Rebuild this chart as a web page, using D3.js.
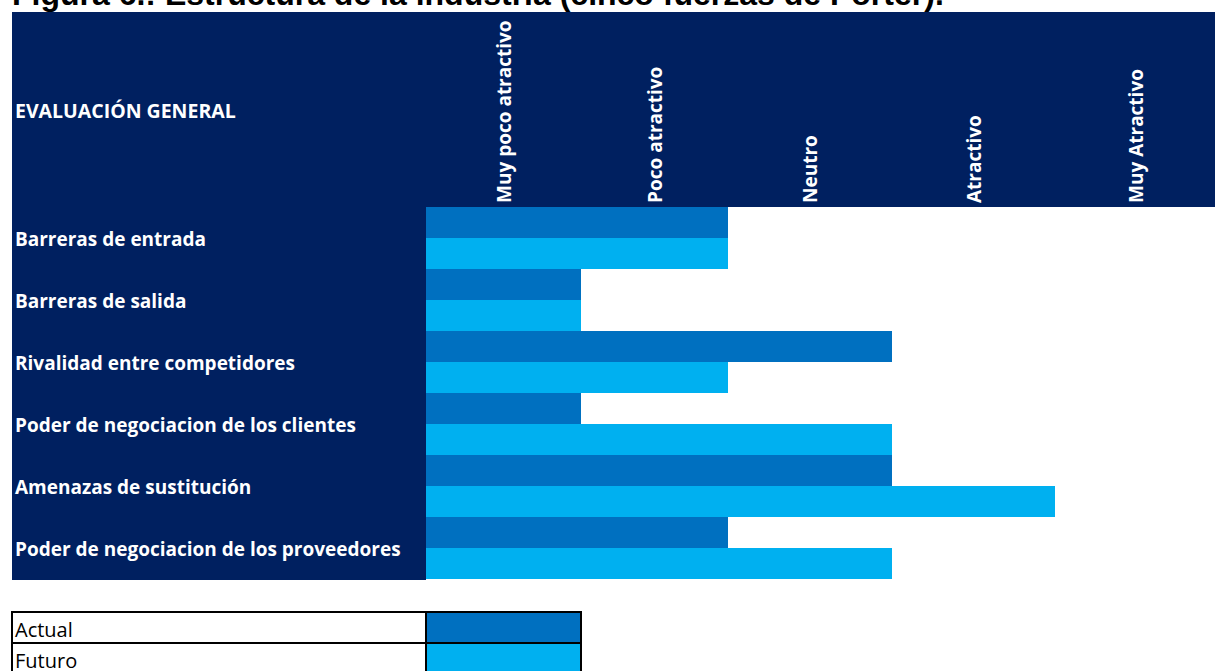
<!DOCTYPE html>
<html lang="es">
<head>
<meta charset="utf-8">
<title>Estructura de la industria</title>
<script src="https://cdn.jsdelivr.net/npm/d3@7"></script>
<style>
  html, body { margin: 0; padding: 0; background: #ffffff; overflow: hidden; }
  svg { display: block; }
</style>
</head>
<body>
<script>
// Five forces, rated on a five-level attractiveness scale (1 = Muy poco atractivo ... 5 = Muy Atractivo)
const categories = [
  "Barreras de entrada",
  "Barreras de salida",
  "Rivalidad entre competidores",
  "Poder de negociacion de los clientes",
  "Amenazas de sustitución",
  "Poder de negociacion de los proveedores"
];
const actualValues = [2, 1, 3, 1, 3, 2];
const futuroValues = [2, 1, 2, 3, 4, 3];
const seriesNames = ["Actual", "Futuro"];
const levelLabels = ["Muy poco atractivo", "Poco atractivo", "Neutro", "Atractivo", "Muy Atractivo"];
const titleText = "Figura 6.: Estructura de la industria (cinco fuerzas de Porter).";
const headerText = "EVALUACIÓN GENERAL";

const W = 1215, H = 671;
const NAVY = "#002060";
const colors = { Actual: "#0070C0", Futuro: "#00B0F0" };
const labelFont = "'Open Sans', 'Noto Sans', 'DejaVu Sans', sans-serif";

const svg = d3.select("body").append("svg")
  .attr("width", W).attr("height", H);

// Grid geometry (sheet-like layout)
const gridLeft = 12, gridTop = 12, headerBottom = 207, plotBottom = 579;

// Level columns have slightly different widths, so the scale is piecewise
const x = d3.scaleLinear()
  .domain([0, 1, 2, 3, 4, 5])
  .range([426, 581, 728, 892, 1055, 1216]);

const y = d3.scaleBand()
  .domain(categories)
  .range([headerBottom, plotBottom])
  .paddingInner(0).paddingOuter(0);

const ySub = d3.scaleBand()
  .domain(seriesNames)
  .range([0, y.bandwidth()])
  .padding(0);

// Title
svg.append("text")
  .attr("x", 12).attr("y", 4.5)
  .attr("font-family", "'Liberation Sans', Arial, sans-serif")
  .attr("font-weight", "bold")
  .attr("font-size", 32)
  .attr("fill", "#000")
  .text(titleText);

// Navy header band and label column
svg.append("rect")
  .attr("x", gridLeft).attr("y", gridTop)
  .attr("width", W - gridLeft).attr("height", headerBottom - gridTop)
  .attr("fill", NAVY);
svg.append("rect")
  .attr("x", gridLeft).attr("y", headerBottom)
  .attr("width", x(0) - gridLeft).attr("height", plotBottom + 1 - headerBottom)
  .attr("fill", NAVY);

svg.append("text")
  .attr("x", 15).attr("y", 118)
  .attr("font-family", labelFont)
  .attr("font-weight", "bold")
  .attr("font-size", 19.5)
  .attr("fill", "#fff")
  .text(headerText);

// Rotated level headings, centred over each level column
svg.append("g").selectAll("text")
  .data(levelLabels)
  .join("text")
  .attr("transform", (d, i) => `translate(${(x(i) + x(i + 1)) / 2 + 7},203) rotate(-90)`)
  .attr("font-family", labelFont)
  .attr("font-weight", "bold")
  .attr("font-size", 19)
  .attr("fill", "#fff")
  .attr("text-anchor", "start")
  .text(d => d);

// Category labels
const yAxis = svg.append("g")
  .attr("transform", "translate(15,0)")
  .call(d3.axisRight(y).tickSize(0).tickPadding(0));
yAxis.select(".domain").remove();
yAxis.selectAll("text")
  .attr("dy", null)
  .attr("y", 8)
  .attr("font-family", labelFont)
  .attr("font-weight", "bold")
  .attr("font-size", 19)
  .attr("fill", "#fff");

// Bars
const rows = categories.map((c, i) => ({
  category: c,
  values: [
    { series: "Actual", value: actualValues[i] },
    { series: "Futuro", value: futuroValues[i] }
  ]
}));

svg.append("g").selectAll("g")
  .data(rows)
  .join("g")
  .attr("transform", d => `translate(0,${y(d.category)})`)
  .selectAll("rect")
  .data(d => d.values)
  .join("rect")
  .attr("x", x(0))
  .attr("y", d => ySub(d.series))
  .attr("width", d => x(d.value) - x(0))
  .attr("height", ySub.bandwidth())
  .attr("fill", d => colors[d.series]);

// Legend table
const legTop = 612, legRow = 31;
const leg = svg.append("g");
seriesNames.forEach((s, i) => {
  const ry = legTop + i * legRow;
  leg.append("rect")
    .attr("x", x(0)).attr("y", ry)
    .attr("width", x(1) - x(0)).attr("height", legRow)
    .attr("fill", colors[s]);
  leg.append("rect")
    .attr("x", gridLeft).attr("y", ry)
    .attr("width", x(1) - gridLeft).attr("height", legRow)
    .attr("fill", "none")
    .attr("stroke", "#000").attr("stroke-width", 2);
  leg.append("line")
    .attr("x1", x(0)).attr("x2", x(0))
    .attr("y1", ry).attr("y2", ry + legRow)
    .attr("stroke", "#000").attr("stroke-width", 2);
  leg.append("text")
    .attr("x", 15).attr("y", ry + 25)
    .attr("font-family", labelFont)
    .attr("font-size", 20)
    .attr("fill", "#000")
    .text(s);
});
</script>
</body>
</html>
